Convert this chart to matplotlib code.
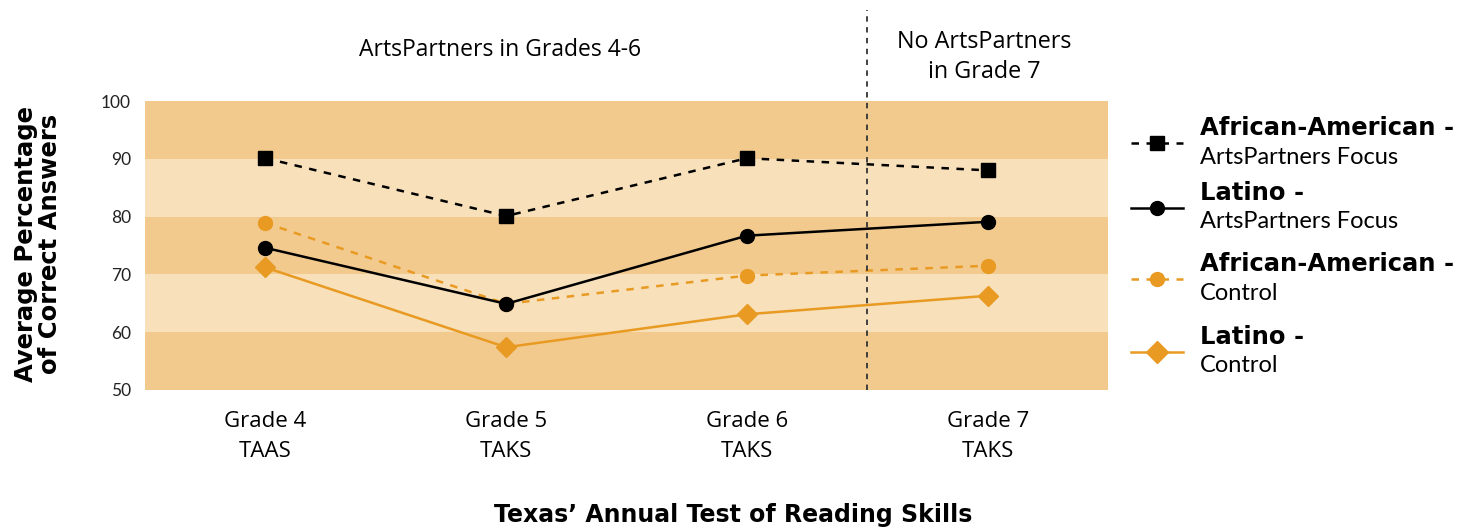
import matplotlib
matplotlib.use("Agg")
import matplotlib.pyplot as plt
from matplotlib.lines import Line2D

categories = ["Grade 4\nTAAS", "Grade 5\nTAKS", "Grade 6\nTAKS", "Grade 7\nTAKS"]
aa_focus = [90.1, 80.1, 90.1, 88.0]
lat_focus = [74.6, 64.9, 76.7, 79.1]
aa_control = [78.9, 64.9, 69.8, 71.5]
lat_control = [71.2, 57.4, 63.1, 66.3]
yticks = [50, 60, 70, 80, 90, 100]

DARK = "#F3CA8E"
LIGHT = "#F7E0BA"
ORANGE = "#E89A22"

W, H = 1473, 529
fig = plt.figure(figsize=(W / 100, H / 100), dpi=100)
ax = fig.add_axes([145 / W, 1 - 390 / H, (1108 - 145) / W, (390 - 101) / H])

x = list(range(len(categories)))
ax.set_xlim(-0.5, len(categories) - 0.5)
ax.set_ylim(50, 100)

for i, (lo, hi) in enumerate(zip(yticks[:-1], yticks[1:])):
    ax.axhspan(lo, hi, color=DARK if i % 2 == 0 else LIGHT, lw=0, zorder=0)

ax.plot(x, aa_focus, color="black", ls=(0, (3, 3)), lw=1.8, marker="s", ms=10, zorder=5)
ax.plot(x, lat_focus, color="black", ls="-", lw=1.8, marker="o", ms=10, zorder=5)
ax.plot(x, aa_control, color=ORANGE, ls=(0, (3, 3)), lw=1.8, marker="o", ms=10, zorder=4)
ax.plot(x, lat_control, color=ORANGE, ls="-", lw=1.8, marker="D", ms=10, zorder=4)

ax.plot([2.5, 2.5], [50, 115.7], color="#333333", ls=(0, (3, 3)), lw=1.3, clip_on=False, zorder=6)

for s in ax.spines.values():
    s.set_visible(False)
ax.set_yticks(yticks)
ax.set_yticklabels([str(v) for v in yticks], fontfamily="Lato", fontsize=12.5)
ax.tick_params(axis="y", length=0, pad=10)
ax.set_xticks(x)
ax.set_xticklabels(categories, fontfamily="Open Sans", fontsize=16, linespacing=1.55)
ax.tick_params(axis="x", length=0, pad=15)
for t in ax.get_yticklabels():
    t.set_color("#222222")

fig.text(500 / W, 1 - 50 / H, "ArtsPartners in Grades 4-6", ha="center", va="center",
         fontfamily="Open Sans", fontsize=16.5)
fig.text(984 / W, 1 - 57 / H, "No ArtsPartners\nin Grade 7", ha="center", va="center",
         fontfamily="Open Sans", fontsize=16.8, linespacing=1.3)

fig.text(733 / W, 1 - 515 / H, "Texas\u2019 Annual Test of Reading Skills", ha="center", va="center",
         fontfamily="DejaVu Sans", fontweight="bold", fontsize=17)
fig.text(38 / W, 1 - 244 / H, "Average Percentage\nof Correct Answers", ha="center", va="center",
         rotation=90, fontfamily="DejaVu Sans", fontweight="bold", fontsize=17.5, linespacing=1.05)

# legend
leg_items = [
    ("African-American -", "ArtsPartners Focus", "black", (0, (3, 3)), "s", 143),
    ("Latino -", "ArtsPartners Focus", "black", "-", "o", 208),
    ("African-American -", "Control", ORANGE, (0, (3, 3)), "o", 279),
    ("Latino -", "Control", ORANGE, "-", "D", 352),
]
for bold, light, c, ls, mk, yp in leg_items:
    yf = 1 - yp / H
    fig.add_artist(Line2D([1131 / W, 1183 / W], [yf, yf], color=c, ls=ls, lw=1.8,
                          transform=fig.transFigure))
    fig.add_artist(Line2D([1157 / W], [yf], color=c, marker=mk, ms=10 if mk != "D" else 11, ls="none",
                          transform=fig.transFigure))
    fig.text(1200 / W, yf + 15 / H, bold, ha="left", va="center", fontfamily="DejaVu Sans",
             fontweight="bold", fontsize=17.5)
    fig.text(1200 / W, yf - 14 / H, light, ha="left", va="center", fontfamily="Lato",
             fontsize=17)

fig.savefig("out.png", dpi=100)
